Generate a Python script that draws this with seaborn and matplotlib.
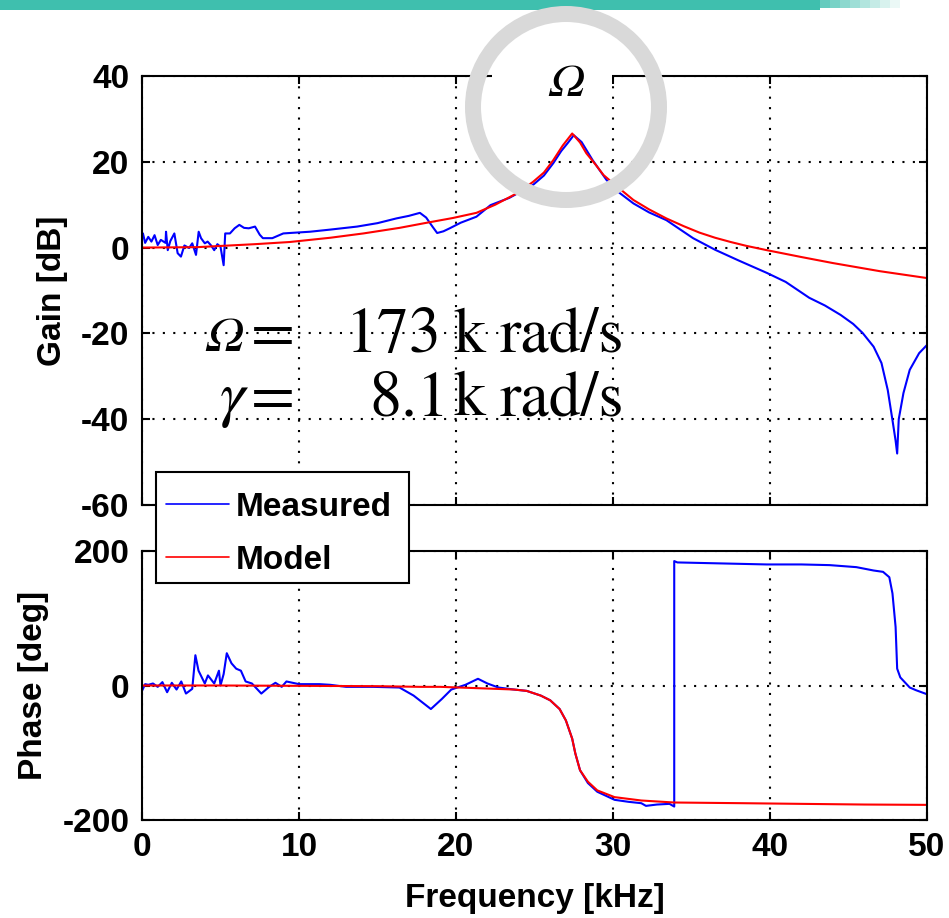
import numpy as np
import pandas as pd
import matplotlib
matplotlib.use("Agg")
import matplotlib.pyplot as plt
from matplotlib.patches import Ellipse, Rectangle
from matplotlib.lines import Line2D
import seaborn as sns

# ---------------- data ----------------
meas_gain_f = [0, 0.06, 0.2, 0.4, 0.6, 0.8, 1.0, 1.2, 1.5, 1.53, 1.64, 1.8, 2.06, 2.27, 2.48, 2.7,
               3.0, 3.2, 3.44, 3.61, 3.76, 4.0, 4.18, 4.4, 4.6, 4.8, 5.0, 5.2, 5.3, 5.6, 5.9, 6.2,
               6.5, 6.8, 7.2, 7.5, 7.7, 8.3, 9.0, 9.4, 10.7, 12.0, 13.7, 15.0, 16.2, 17.0, 17.7,
               18.1, 18.5, 18.8, 19.2, 19.6, 20.3, 21.3, 22.2, 23.4, 24.9, 25.6, 26.2, 26.7, 27.1,
               27.5, 28.0, 28.7, 29.6, 30.4, 31.3, 32.3, 33.4, 35.1, 36.5, 38.0, 39.8, 41.0, 42.5,
               43.5, 44.5, 45.3, 45.9, 46.6, 47.1, 47.5, 47.8, 48.0, 48.1, 48.2, 48.5, 48.9, 49.5, 50.0]
meas_gain_db = [2.5, 3.3, 1.1, 2.5, 1.4, 2.9, 0.6, 1.8, 1.1, 3.7, -0.6, 1.5, 3.3, -1.3, -2.1, 0.5,
                -0.1, 1.0, -1.7, 3.7, 2.2, 1.0, 1.4, 0.5, -0.6, 0.8, 0.2, -4.1, 3.3, 3.3, 4.5, 5.3,
                4.6, 4.5, 4.9, 3.0, 2.2, 2.2, 3.3, 3.4, 3.7, 4.2, 4.9, 5.7, 6.8, 7.4, 8.1,
                7.0, 4.9, 3.4, 3.8, 4.5, 5.8, 7.2, 9.9, 11.6, 14.6, 16.8, 19.7, 22.5, 24.3,
                26.2, 24.6, 20.4, 15.7, 12.8, 10.3, 8.2, 6.4, 2.2, -0.5, -3.0, -5.9, -8.0, -11.7,
                -13.5, -15.7, -17.8, -19.9, -23.1, -26.9, -33.2, -40.2, -45, -48, -40, -33.9, -28.5, -24.6, -22.7]

model_gain_f = [0, 3.5, 7.2, 9.4, 12, 14.1, 16.4, 18, 19.8, 21.3, 22.5, 23.9, 24.9, 25.6, 26.2, 26.8,
                27.4, 27.9, 28.3, 28.9, 29.4, 30.3, 31.3, 32.3, 33.4, 34.5, 35.5, 36.5, 37.5, 38.5,
                39.8, 42, 44, 47, 50]
model_gain_db = [0, 0.1, 0.8, 1.3, 2.3, 3.3, 4.6, 5.7, 6.9, 8.1, 10.0, 12.7, 15.3, 17.5, 20.4, 23.8,
                 26.6, 24.5, 22.0, 19.3, 16.9, 14.1, 11.1, 8.9, 6.8, 5.0, 3.5, 2.3, 1.3, 0.4,
                 -0.6, -2.2, -3.6, -5.5, -7.1]

meas_phase_f = [0, 0.2, 0.4, 0.7, 1.0, 1.3, 1.6, 1.9, 2.2, 2.5, 2.8, 3.2, 3.4, 3.6, 4.0, 4.2, 4.6,
                4.9, 5.0, 5.2, 5.4, 5.7, 6.0, 6.3, 6.6, 7.0, 7.6, 8.1, 8.5, 8.9, 9.2, 10.0, 11.3,
                12.0, 13.0, 14.7, 16.4, 17.3, 18.4, 19.1, 19.7, 20.6, 21.4, 22.0, 22.7, 23.7, 24.5,
                25.4, 26.0, 26.6, 27.0, 27.4, 27.6, 27.9, 28.4, 29.0, 30.1, 31.0, 31.8, 32.1, 32.8,
                33.6, 33.9, 33.9, 34.1, 36, 39.8, 42, 43.8, 45.5, 46.6, 47.2, 47.6, 47.8, 48.0, 48.1,
                48.3, 48.9, 49.3, 50.0]
meas_phase_deg = [-8, 2, 1, 3, -2, 5, -10, 4, -6, 6, -12, -5, 45, 22, 3, 15, 3,
                  22, 0, 17, 48, 33, 25, 22, 6, 3, -12, -2, 4, -2, 6, 2, 2,
                  1, -2, -2, -3, -15, -35, -20, -6, 1, 10, 3, -3, -6, -8,
                  -15, -22, -35, -52, -79, -101, -126, -145, -158, -170, -173, -175, -179, -177,
                  -176, -180, 185, 183, 182, 180, 180, 179, 176, 171, 169, 161, 137, 87, 25,
                  12, -3, -7, -13]

model_phase_f = [0, 5, 10, 15, 17.7, 19, 22, 23.7, 24.5, 25.4, 26.0, 26.6, 27.0, 27.4, 27.6, 27.9,
                 28.4, 29.0, 30.1, 31.8, 33.9, 38.2, 42, 46, 50]
model_phase_deg = [0, 0, -0.5, -1, -2, -2, -4.5, -6, -8, -15, -22, -35, -52, -79, -101, -126,
                   -143, -156, -166, -171, -174, -175, -176, -177, -177.5]

x_ticks = [0, 10, 20, 30, 40, 50]
gain_ticks = [-60, -40, -20, 0, 20, 40]
phase_ticks = [-200, 0, 200]
legend_labels = ["Measured", "Model"]

# ---------------- styling ----------------
sns.set_theme(style="white")
plt.rcParams["font.family"] = ["Liberation Sans", "DejaVu Sans"]
plt.rcParams["font.weight"] = "bold"
plt.rcParams["font.size"] = 24
plt.rcParams["axes.unicode_minus"] = False
plt.rcParams["text.color"] = "black"
plt.rcParams["axes.labelcolor"] = "black"

W, H = 949, 918
fig = plt.figure(figsize=(W / 100, H / 100), dpi=100)
fig.patch.set_facecolor("white")

def fx(px):
    return px / W

def fy(py):
    return 1 - py / H

ax1 = fig.add_axes([fx(142), fy(505), fx(927) - fx(142), fy(76) - fy(505)])
ax2 = fig.add_axes([fx(142), fy(820), fx(927) - fx(142), fy(551) - fy(820)])

blue = (0, 0, 1)
red = (1, 0, 0)

df_mg = pd.DataFrame({"f": meas_gain_f, "v": meas_gain_db})
df_og = pd.DataFrame({"f": model_gain_f, "v": model_gain_db})
df_mp = pd.DataFrame({"f": meas_phase_f, "v": meas_phase_deg})
df_op = pd.DataFrame({"f": model_phase_f, "v": model_phase_deg})

sns.lineplot(data=df_mg, x="f", y="v", ax=ax1, color=blue, lw=1.5, estimator=None, sort=False)
sns.lineplot(data=df_og, x="f", y="v", ax=ax1, color=red, lw=1.5, estimator=None, sort=False)
sns.lineplot(data=df_mp, x="f", y="v", ax=ax2, color=blue, lw=1.5, estimator=None, sort=False)
sns.lineplot(data=df_op, x="f", y="v", ax=ax2, color=red, lw=1.5, estimator=None, sort=False)

for ax, yt, ylim in [(ax1, gain_ticks, (-60, 40)), (ax2, phase_ticks, (-200, 200))]:
    ax.set_xlim(0, 50)
    ax.set_ylim(*ylim)
    ax.set_xticks(x_ticks)
    ax.set_yticks(yt)
    ax.grid(True, linestyle=(0, (1, 4)), color="black", lw=1.5)
    for s in ax.spines.values():
        s.set_visible(True)
        s.set_color("black")
        s.set_linewidth(1.5)
    ax.tick_params(direction="in", length=6, width=1.5, top=True, right=True,
                   bottom=True, left=True, labelsize=24, pad=9, colors="black")
    ax.set_facecolor("white")

ax1.tick_params(labelbottom=False)
ax1.set_xlabel("")
ax1.set_ylabel("Gain [dB]", fontsize=24, fontweight="bold", color="black", labelpad=9.5)
ax2.set_ylabel("Phase [deg]", fontsize=24, fontweight="bold", color="black", labelpad=10)
ax2.set_xlabel("Frequency [kHz]", fontsize=24, fontweight="bold", color="black", labelpad=14)

# legend spanning both panels (frame drawn separately)
fig.add_artist(Rectangle((fx(156), fy(583)), fx(409) - fx(156), (583 - 472) / H,
                         transform=fig.transFigure, facecolor="white", edgecolor="black",
                         lw=1.5, zorder=4))
handles = [Line2D([], [], color=blue, lw=1.2), Line2D([], [], color=red, lw=1.2)]
leg = fig.legend(handles, legend_labels, loc="upper left",
                 bbox_to_anchor=(fx(166), fy(492)), bbox_transform=fig.transFigure,
                 borderaxespad=0, frameon=False, handlelength=1.9,
                 handletextpad=0.2, labelspacing=0.66, borderpad=0.0,
                 prop={"family": "Liberation Sans", "weight": "bold", "size": 24})
leg.set_zorder(5)
for t in leg.get_texts():
    t.set_color("black")

# teal banner at top
fig.add_artist(Rectangle((0, fy(10)), fx(820), 10 / H, transform=fig.transFigure,
                         facecolor="#3fbfae", edgecolor="none", zorder=3))
for i, a in enumerate(np.linspace(0.8, 0.1, 8)):
    fig.add_artist(Rectangle((fx(820 + i * 10), fy(8)), fx(10), 8 / H, transform=fig.transFigure,
                             facecolor="#3fbfae", alpha=a, edgecolor="none", zorder=3))

# white box behind the Omega marker, gray ring
fig.add_artist(Rectangle((fx(492), fy(100)), fx(120), 50 / H, transform=fig.transFigure,
                         facecolor="white", edgecolor="none", zorder=3))
fig.add_artist(Ellipse((fx(566), fy(107)), 2 * 93 / W, 2 * 93 / H, transform=fig.transFigure,
                       fill=False, edgecolor="#d9d9d9", lw=16 * 0.72, zorder=4))
fig.text(fx(566), fy(97), "Ω", ha="center", va="baseline", fontsize=34,
         family="STIXGeneral", style="italic", fontweight="normal", color="black", zorder=5)

# parameter annotation
tkw = dict(va="baseline", family="STIXGeneral", fontweight="normal", color="black")
fig.text(fx(205), fy(352), "Ω", style="italic", fontsize=36, ha="left", **tkw)
fig.text(fx(273), fy(352), "=", fontsize=46, ha="center", **tkw)
fig.text(fx(394), fy(352), "173", fontsize=46, ha="center", **tkw)
fig.text(fx(470), fy(352), "k", fontsize=46, ha="center", **tkw)
fig.text(fx(500), fy(352), "rad/s", fontsize=46, ha="left", **tkw)
fig.text(fx(220), fy(415), "γ", style="italic", fontsize=46, ha="left", **tkw)
fig.text(fx(273), fy(415), "=", fontsize=46, ha="center", **tkw)
fig.text(fx(409), fy(415), "8.1", fontsize=46, ha="center", **tkw)
fig.text(fx(470), fy(415), "k", fontsize=46, ha="center", **tkw)
fig.text(fx(500), fy(415), "rad/s", fontsize=46, ha="left", **tkw)

fig.savefig("out.png", dpi=100)
